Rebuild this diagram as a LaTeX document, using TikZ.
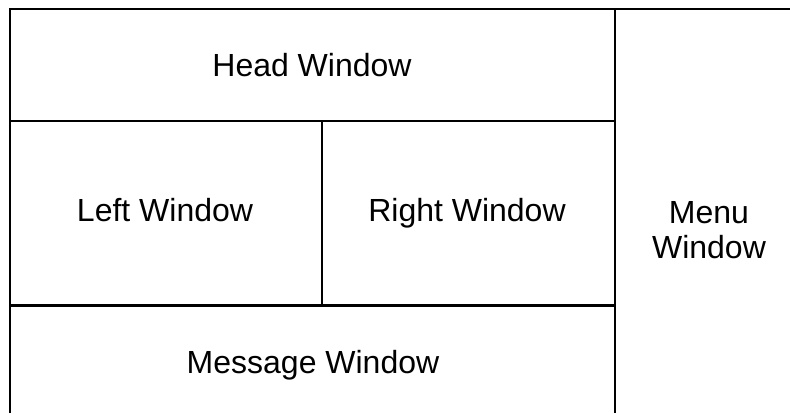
\documentclass[tikz,border=0pt]{standalone}
\usepackage{fontspec}
\setmainfont{Liberation Sans}
\begin{document}
\begin{tikzpicture}[x=1pt,y=-1pt,
  frame/.style={line width=2.2pt},
  lbl/.style={font=\fontsize{32}{35}\selectfont, inner sep=0pt, anchor=base, align=center}]
\useasboundingbox (0,0) rectangle (790,413);
\fill[white] (0,0) rectangle (790,413);
% frame lines
\draw[frame] (10,413) -- (10,9) -- (790,9);
\draw[frame] (615,9) -- (615,413);
\draw[frame] (10,121) -- (615,121);
\draw[frame] (10,305.5) -- (615,305.5);
\draw[frame] (322,121) -- (322,305.5);
% labels
\node[lbl] (head) at (312,76) {Head Window};
\node[lbl] (left) at (165,221) {Left Window};
\node[lbl] (right) at (467,221) {Right Window};
\node[lbl] (menu) at (709,258) {Menu\\Window};
\node[lbl] (msg) at (313,373) {Message Window};
\end{tikzpicture}
\end{document}
